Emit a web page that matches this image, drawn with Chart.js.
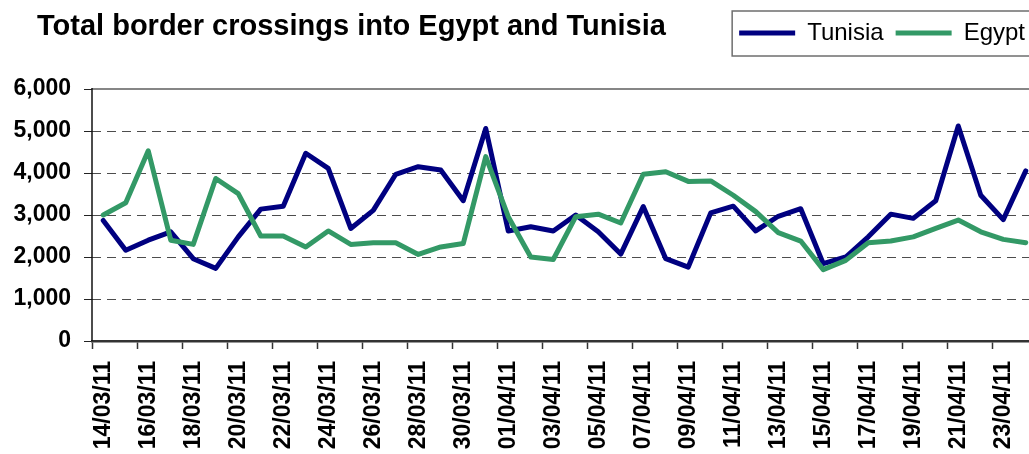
<!DOCTYPE html>
<html>
<head>
<meta charset="utf-8">
<script src="https://cdn.jsdelivr.net/npm/chart.js@4/dist/chart.umd.min.js"></script>
<style>
	html, body { margin: 0; padding: 0; background: #fff; overflow: hidden; }
	#wrap { position: relative; width: 1029px; height: 454px; overflow: hidden; }
	#box { position: absolute; left: 0; top: 0; width: 1044px; height: 454px; }
	#title {
		position: absolute; left: 37px; top: 11px; margin: 0;
		font: bold 29px "Liberation Sans", Arial, sans-serif; line-height: 29px;
		color: #000; white-space: nowrap;
	}
</style>
</head>
<body>
<div id="wrap">
	<div id="box"><canvas id="miGrafico"></canvas></div>
	<h1 id="title">Total border crossings into Egypt and Tunisia</h1>
</div>
<script>
const dates = [
	"14/03/11", "15/03/11", "16/03/11", "17/03/11", "18/03/11", "19/03/11", "20/03/11",
	"21/03/11", "22/03/11", "23/03/11", "24/03/11", "25/03/11", "26/03/11", "27/03/11",
	"28/03/11", "29/03/11", "30/03/11", "31/03/11", "01/04/11", "02/04/11", "03/04/11",
	"04/04/11", "05/04/11", "06/04/11", "07/04/11", "08/04/11", "09/04/11", "10/04/11",
	"11/04/11", "12/04/11", "13/04/11", "14/04/11", "15/04/11", "16/04/11", "17/04/11",
	"18/04/11", "19/04/11", "20/04/11", "21/04/11", "22/04/11", "23/04/11", "24/04/11",
];
const tunisia = [
	2870, 2160, 2400, 2600, 1960, 1730, 2480, 3140, 3210, 4470, 4110, 2680, 3110, 3970,
	4150, 4070, 3340, 5060, 2620, 2720, 2620, 3000, 2600, 2070, 3200, 1960, 1760, 3050,
	3210, 2620, 2970, 3150, 1840, 2000, 2480, 3020, 2920, 3340, 5120, 3470, 2890, 4050,
];
const egypt = [
	3000, 3290, 4530, 2400, 2300, 3870, 3510, 2500, 2500, 2240, 2620, 2300, 2340, 2340,
	2060, 2240, 2320, 4390, 2960, 2000, 1940, 2960, 3020, 2810, 3970, 4030, 3800, 3810,
	3470, 3080, 2580, 2380, 1700, 1920, 2340, 2380, 2480, 2680, 2880, 2600, 2420, 2340,
];
const yTicks = [0, 1000, 2000, 3000, 4000, 5000, 6000];

const legendGap = 34;

// plot frame (gray top/right, solid left axis) and a box round the legend
const frame = {
	id: "frame",
	afterInit(chart) {
		const lg = chart.legend;
		const fit = lg.fit;
		lg.fit = function () {
			fit.call(this);
			this.height += legendGap;
		};
	},
	beforeDatasetsDraw(chart) {
		const { ctx, chartArea: a } = chart;
		ctx.save();
		ctx.strokeStyle = "#868686";
		ctx.lineWidth = 2;
		ctx.beginPath();
		ctx.moveTo(a.left, a.top);
		ctx.lineTo(a.right, a.top);
		ctx.lineTo(a.right, a.bottom);
		ctx.stroke();
		ctx.strokeStyle = "#111";
		ctx.lineWidth = 1.5;
		ctx.beginPath();
		ctx.moveTo(a.left, a.top - 1);
		ctx.lineTo(a.left, a.bottom);
		ctx.stroke();
		ctx.restore();
	},
	afterDraw(chart) {
		const boxes = chart.legend.legendHitBoxes;
		if (!boxes || !boxes.length) return;
		const first = boxes[0];
		const last = boxes[boxes.length - 1];
		const cy = first.top + first.height / 2;
		const ctx = chart.ctx;
		ctx.save();
		ctx.strokeStyle = "#6e6e6e";
		ctx.lineWidth = 1.5;
		ctx.strokeRect(first.left - 7, cy - 22, last.left + last.width + 12 - (first.left - 7), 45);
		ctx.restore();
	},
};

function initGrafico() {
	const ctx = document.getElementById("miGrafico");

	new Chart(ctx, {
		type: "line",
		data: {
			labels: dates,
			datasets: [
				{
					label: "Tunisia",
					data: tunisia,
					borderColor: "#000080",
					backgroundColor: "#000080",
					borderWidth: 5,
					borderCapStyle: "round",
					borderJoinStyle: "round",
					pointRadius: 0,
					tension: 0,
					order: 2,
				},
				{
					label: "Egypt",
					data: egypt,
					borderColor: "#339966",
					backgroundColor: "#339966",
					borderWidth: 5,
					borderCapStyle: "round",
					borderJoinStyle: "round",
					pointRadius: 0,
					tension: 0,
					order: 1,
				},
			],
		},
		options: {
			responsive: true,
			maintainAspectRatio: false,
			animation: false,
			layout: { padding: { top: 9, right: 7, left: 0, bottom: 0 } },
			plugins: {
				tooltip: { enabled: false },
				title: { display: false },
				legend: {
					position: "top",
					align: "end",
					labels: {
						usePointStyle: true,
						pointStyle: "line",
						pointStyleWidth: 56,
						padding: 12,
						color: "#000",
						font: { family: "'Liberation Sans', Arial, sans-serif", size: 24 },
						sort: (a, b) => a.datasetIndex - b.datasetIndex,
					},
				},
			},
			scales: {
				x: {
					offset: true,
					afterFit: (scale) => {
						scale.height = 113;
						scale.paddingLeft = 0;
						scale.paddingRight = 0;
					},
					grid: {
						offset: true,
						drawOnChartArea: false,
						drawTicks: true,
						tickLength: 8,
						tickWidth: 1.5,
						tickColor: (c) => (c.index % 2 === 0 ? "#333" : "rgba(0,0,0,0)"),
					},
					border: { color: "#333", width: 2.5 },
					ticks: {
						autoSkip: false,
						maxRotation: 90,
						minRotation: 90,
						padding: 12,
						color: "#000",
						font: { family: "'Liberation Sans', Arial, sans-serif", size: 23, weight: "bold" },
						callback: (v, i) => (i % 2 === 0 ? dates[i] : ""),
					},
				},
				y: {
					min: yTicks[0],
					max: yTicks[yTicks.length - 1],
					afterFit: (scale) => { scale.width = 92; },
					afterBuildTicks: (scale) => { scale.ticks = yTicks.map((v) => ({ value: v })); },
					grid: {
						color: (c) => (c.tick && c.tick.value > 0 && c.tick.value < 6000 ? "#4d4d4d" : "rgba(0,0,0,0)"),
						lineWidth: 1,
						drawTicks: true,
						tickLength: 8,
						tickColor: "#222",
						tickWidth: 1,
						tickBorderDash: [],
					},
					border: { display: false, dash: [9, 6] },
					ticks: {
						padding: 13,
						color: "#000",
						font: { family: "'Liberation Sans', Arial, sans-serif", size: 23, weight: "bold" },
						callback: (v) => v.toLocaleString("en-US"),
					},
				},
			},
		},
		plugins: [frame],
	});
}

initGrafico();
</script>
</body>
</html>
